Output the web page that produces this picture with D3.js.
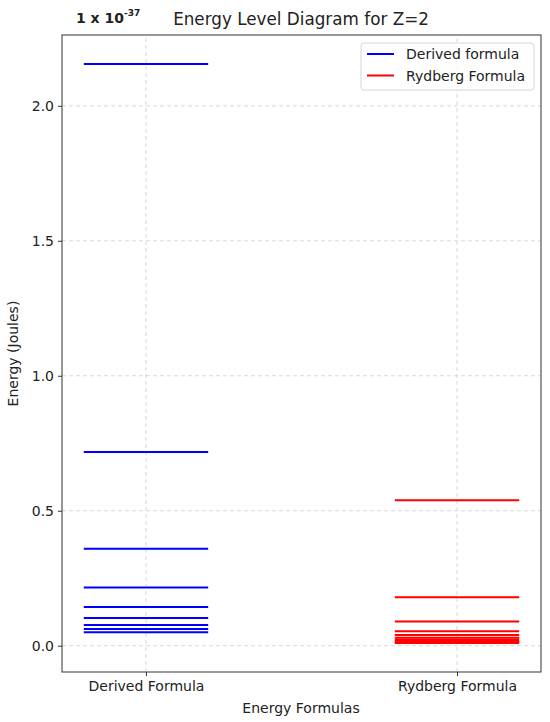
<!DOCTYPE html>
<html>
<head>
<meta charset="utf-8">
<script src="https://cdn.jsdelivr.net/npm/d3@7"></script>
<style>
  body { margin: 0; background: #fff; }
  text { font-family: "DejaVu Sans", sans-serif; fill: #222; }
</style>
</head>
<body>
<div id="chart"></div>
<script>
// Categories on the x axis
const categories = ["Derived Formula", "Rydberg Formula"];
// Energy levels, in units of 1e-37 J
const derivedLevels = [2.155, 0.718, 0.359, 0.2155, 0.1437, 0.1026, 0.077, 0.062, 0.050];
const rydbergLevels = [0.539, 0.180, 0.0898, 0.0539, 0.0400, 0.0300, 0.0230, 0.0175, 0.0135, 0.0100];
const yTicks = [0.0, 0.5, 1.0, 1.5, 2.0];
const legendLabels = ["Derived formula", "Rydberg Formula"];
const seriesColors = ["#0000ff", "#ff0000"];

const width = 550, height = 722;
const margin = { top: 35, right: 9, bottom: 50, left: 62 };

const svg = d3.select("#chart").append("svg")
    .attr("width", width)
    .attr("height", height);

// x: categorical index with matplotlib-like 5% margins around [-0.2, 1.2]
const x = d3.scaleLinear()
    .domain([-0.27, 1.27])
    .range([margin.left, width - margin.right]);

const allLevels = derivedLevels.concat(rydbergLevels);
const yMin = d3.min(allLevels), yMax = d3.max(allLevels);
const pad = (yMax - yMin) * 0.05;
const y = d3.scaleLinear()
    .domain([yMin - pad, yMax + pad])
    .range([height - margin.bottom, margin.top]);

// Grid lines
const grid = svg.append("g")
    .attr("stroke", "#cfcfcf")
    .attr("stroke-width", 0.8)
    .attr("stroke-dasharray", "4,3");
grid.selectAll("line.gy").data(yTicks).enter().append("line")
    .attr("x1", x.range()[0]).attr("x2", x.range()[1])
    .attr("y1", d => y(d)).attr("y2", d => y(d));
grid.selectAll("line.gx").data(categories).enter().append("line")
    .attr("x1", (d, i) => x(i)).attr("x2", (d, i) => x(i))
    .attr("y1", y.range()[0]).attr("y2", y.range()[1]);

// Energy levels
const series = [derivedLevels, rydbergLevels];
series.forEach(function(levels, i) {
    svg.append("g")
        .attr("stroke", seriesColors[i])
        .attr("stroke-width", 2)
        .selectAll("line")
        .data(levels)
        .enter().append("line")
        .attr("x1", x(i - 0.2))
        .attr("x2", x(i + 0.2))
        .attr("y1", d => y(d))
        .attr("y2", d => y(d));
});

// Axes
const yAxis = d3.axisLeft(y).tickValues(yTicks).tickFormat(d3.format(".1f")).tickSize(4).tickPadding(4);
const xAxis = d3.axisBottom(x).tickValues([0, 1]).tickFormat((d, i) => categories[i]).tickSize(4).tickPadding(5);

const gy = svg.append("g")
    .attr("transform", `translate(${margin.left},0)`)
    .call(yAxis);
const gx = svg.append("g")
    .attr("transform", `translate(0,${height - margin.bottom})`)
    .call(xAxis);
[gx, gy].forEach(g => {
    g.select(".domain").remove();
    g.selectAll(".tick line").attr("stroke", "#333");
    g.selectAll(".tick text").attr("font-size", 14).attr("fill", "#222")
        .attr("font-family", "DejaVu Sans, sans-serif");
});

// Frame
svg.append("rect")
    .attr("x", x.range()[0])
    .attr("y", y.range()[1])
    .attr("width", x.range()[1] - x.range()[0])
    .attr("height", y.range()[0] - y.range()[1])
    .attr("fill", "none")
    .attr("stroke", "#333")
    .attr("stroke-width", 1);

// Title and labels
svg.append("text")
    .attr("x", 301).attr("y", 25)
    .attr("text-anchor", "middle")
    .attr("font-size", 16.8)
    .text("Energy Level Diagram for Z=2");

svg.append("text")
    .attr("x", 301).attr("y", 713)
    .attr("text-anchor", "middle")
    .attr("font-size", 14)
    .text("Energy Formulas");

svg.append("text")
    .attr("transform", `translate(18,${(margin.top + height - margin.bottom) / 2}) rotate(-90)`)
    .attr("text-anchor", "middle")
    .attr("font-size", 14)
    .text("Energy (Joules)");

// Scale factor label
const sci = svg.append("text")
    .attr("x", 76).attr("y", 23)
    .attr("font-size", 14)
    .attr("font-family", "Liberation Sans, Arial, sans-serif")
    .attr("font-weight", "bold")
    .attr("fill", "#111");
sci.append("tspan").text("1 x 10");
sci.append("tspan").attr("dy", -7).attr("font-size", 9).text("-37");

// Legend
const legend = svg.append("g").attr("transform", "translate(361,43)");
legend.append("rect")
    .attr("width", 173).attr("height", 47).attr("rx", 3)
    .attr("fill", "#fff").attr("fill-opacity", 0.8)
    .attr("stroke", "#d6d6d6");
legendLabels.forEach(function(label, i) {
    legend.append("line")
        .attr("x1", 6).attr("x2", 33)
        .attr("y1", 11 + i * 21.5).attr("y2", 11 + i * 21.5)
        .attr("stroke", seriesColors[i]).attr("stroke-width", 2);
    legend.append("text")
        .attr("x", 45).attr("y", 16 + i * 21.5)
        .attr("font-size", 14)
        .text(label);
});
</script>
</body>
</html>
